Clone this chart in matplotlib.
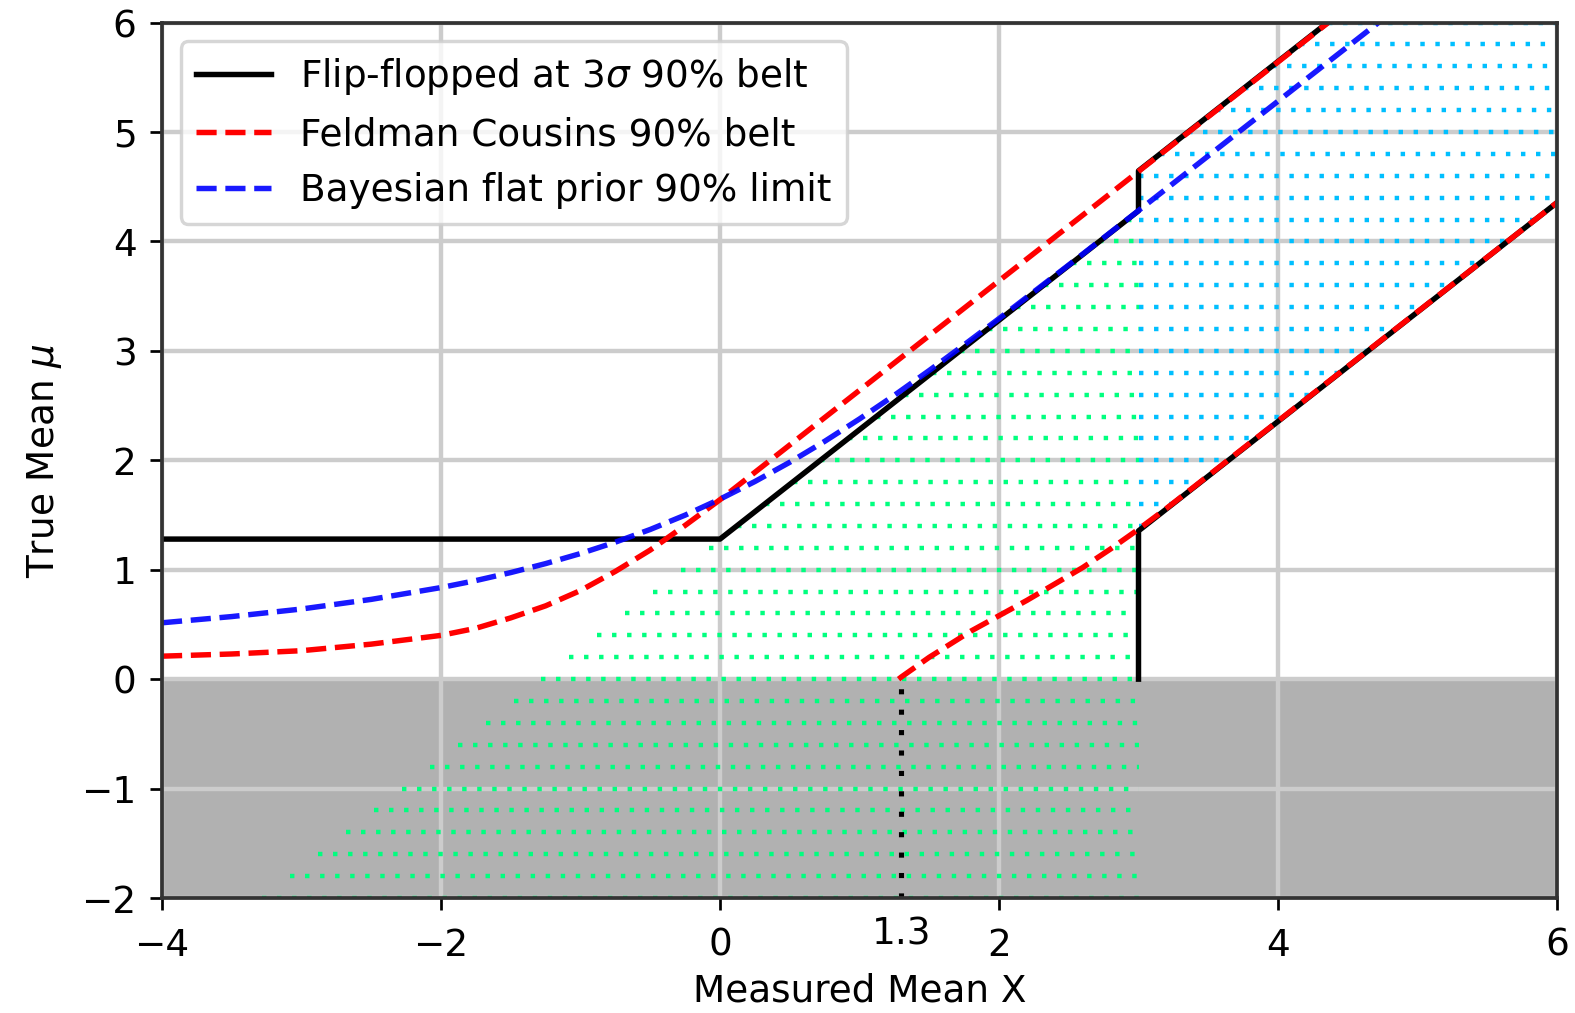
import numpy as np
import matplotlib
matplotlib.use("Agg")
import matplotlib.pyplot as plt

# ---------------- data ----------------
# Flip-flopped at 3 sigma 90% belt (polyline vertices)
ff_upper_x = [-4.0, 0.0, 3.0, 3.0, 4.355]
ff_upper_y = [1.28, 1.28, 4.28, 4.645, 6.0]
ff_lower_x = [3.0, 3.0, 6.0]
ff_lower_y = [0.0, 1.355, 4.355]

# Feldman-Cousins 90% belt
fc_upper_x = [-4.0, -3.5, -3.0, -2.5, -2.0, -1.75, -1.5, -1.25, -1.0, -0.75,
              -0.5, -0.25, 0.0, 1.0, 2.0, 3.0, 4.36]
fc_upper_y = [0.21, 0.23, 0.26, 0.32, 0.40, 0.465, 0.56, 0.67, 0.81, 0.985,
              1.18, 1.405, 1.64, 2.64, 3.64, 4.64, 6.0]
fc_lower_x = [1.28, 1.3, 1.4, 1.5, 1.6, 1.7, 1.8, 1.9, 2.0, 2.2, 2.4, 2.6,
              2.8, 3.0, 3.2, 6.0]
fc_lower_y = [0.0, 0.02, 0.11, 0.20, 0.28, 0.36, 0.44, 0.51, 0.58, 0.72, 0.87,
              1.02, 1.19, 1.37, 1.56, 4.355]

# Bayesian flat prior 90% upper limit
bayes_x = [-4.0, -3.5, -3.0, -2.5, -2.0, -1.75, -1.5, -1.25, -1.0, -0.75,
           -0.5, -0.25, 0.0, 0.25, 0.5, 0.75, 1.0, 1.25, 1.5, 1.75, 2.0,
           2.5, 3.0, 3.5, 4.0, 4.75]
bayes_y = [0.515, 0.572, 0.641, 0.729, 0.837, 0.901, 0.974, 1.056, 1.148,
           1.252, 1.368, 1.499, 1.645, 1.806, 1.982, 2.173, 2.378, 2.594,
           2.821, 3.055, 3.295, 3.785, 4.282, 4.782, 5.282, 6.03]

# dotted acceptance rows: (mu, x_start, x_end)
green_mu = [round(-2.0 + 0.2 * i, 1) for i in range(32)]       # -2.0 .. 4.2
green_x0 = [m - 1.28 for m in green_mu]
green_x1 = [3.0] * len(green_mu)
cyan_mu = [round(1.4 + 0.2 * i, 1) for i in range(24)]         # 1.4 .. 6.0
cyan_x0 = [max(3.0, m - 1.645) for m in cyan_mu]
cyan_x1 = [min(6.0, m + 1.645) for m in cyan_mu]

mark_x = 1.3
x_ticks = [-4, -2, 0, 2, 4, 6]
y_ticks = [-2, -1, 0, 1, 2, 3, 4, 5, 6]

# ---------------- figure ----------------
plt.rcParams["font.size"] = 11
plt.rcParams["xtick.major.pad"] = 5
plt.rcParams["ytick.major.pad"] = 4

W, H, DPI = 1575, 1013, 245
fig = plt.figure(figsize=(W / DPI, H / DPI), dpi=DPI)
ax = fig.add_axes([162 / W, 1 - 898 / H, (1557 - 162) / W, (898 - 22.6) / H])

ax.axhspan(-2, 0, color="#b1b1b1", zorder=0.5, lw=0)

dots = (0, (1, 2.4))
for m, a, b in zip(green_mu, green_x0, green_x1):
    ax.hlines(m, a, b, colors="springgreen", linestyles=[dots], lw=1.3, zorder=1.8)
for m, a, b in zip(cyan_mu, cyan_x0, cyan_x1):
    if b > a:
        ax.hlines(m, a, b, colors="deepskyblue", linestyles=[dots], lw=1.3, zorder=1.8)

ax.plot(ff_upper_x, ff_upper_y, color="black", lw=1.6,
        label=r"Flip-flopped at 3$\sigma$ 90% belt")
ax.plot(ff_lower_x, ff_lower_y, color="black", lw=1.6)
ax.plot(fc_upper_x, fc_upper_y, color="red", ls="--", lw=1.6,
        label="Feldman Cousins 90% belt")
ax.plot(fc_lower_x, fc_lower_y, color="red", ls="--", lw=1.6)
ax.plot(bayes_x, bayes_y, color="blue", ls="--", lw=1.6, alpha=0.9,
        label="Bayesian flat prior 90% limit")

ax.plot([mark_x, mark_x], [-2, 0], color="black", ls=(0, (1, 3)), lw=1.5)
ax.annotate("1.3", xy=(mark_x, -2), xytext=(0, -5), textcoords="offset points",
            ha="center", va="top", fontsize=11, annotation_clip=False)

ax.set_xlim(-4, 6)
ax.set_ylim(-2, 6)
ax.set_xticks(x_ticks)
ax.set_yticks(y_ticks)
ax.grid(True, color="#cccccc", lw=1.3)
for s in ax.spines.values():
    s.set_color("#333333")
    s.set_linewidth(1.1)

ax.set_xlabel("Measured Mean X", labelpad=2.5)
ax.set_ylabel(r"True Mean $\mu$", labelpad=5)
ax.legend(loc="upper left")

fig.savefig("out.png", dpi=DPI)
